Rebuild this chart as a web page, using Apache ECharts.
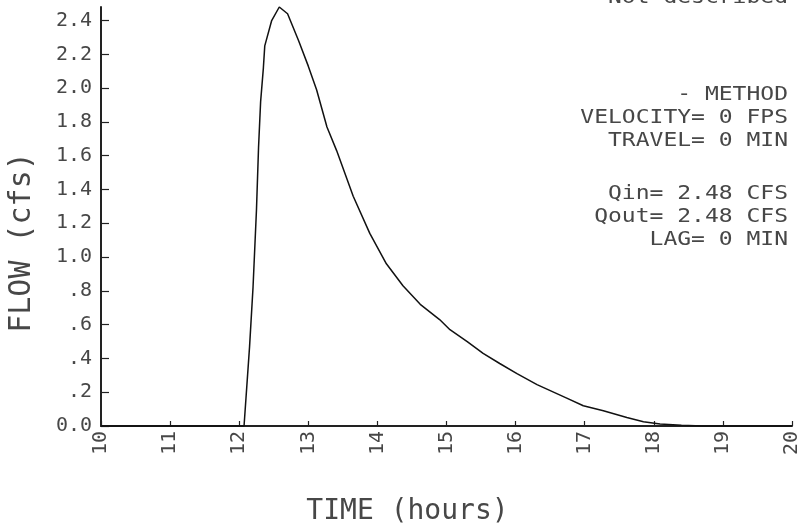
<!DOCTYPE html>
<html>
<head>
<meta charset="utf-8">
<script src="https://cdn.jsdelivr.net/npm/echarts@6/dist/echarts.min.js"></script>
<style>
  html, body { margin: 0; padding: 0; background: #fff; }
  #chart { width: 798px; height: 531px; }
</style>
</head>
<body>
<div id="chart"></div>
<script>
// Outflow hydrograph: time (hours) vs flow (cfs)
const times = [10, 12.07, 12.15, 12.2, 12.25, 12.28, 12.31, 12.35, 12.37, 12.47,
  12.58, 12.7, 12.86, 13.0, 13.12, 13.27, 13.41, 13.65, 13.89, 14.13,
  14.37, 14.62, 14.9, 15.05, 15.3, 15.53, 15.77, 16.02, 16.31, 16.74,
  16.98, 17.27, 17.61, 17.85, 18.09, 18.4, 18.7, 20];
const flow = [0, 0, 0.47, 0.82, 1.28, 1.65, 1.92, 2.12, 2.25, 2.40,
  2.48, 2.44, 2.28, 2.13, 1.99, 1.77, 1.63, 1.36, 1.14, 0.96,
  0.83, 0.72, 0.63, 0.57, 0.5, 0.43, 0.37, 0.31, 0.245, 0.165,
  0.12, 0.09, 0.05, 0.025, 0.012, 0.004, 0, 0];

const yTickValues = [0, 0.2, 0.4, 0.6, 0.8, 1.0, 1.2, 1.4, 1.6, 1.8, 2.0, 2.2, 2.4];
const yTickLabels = ['0.0', '.2', '.4', '.6', '.8', '1.0', '1.2', '1.4', '1.6', '1.8', '2.0', '2.2', '2.4'];
const xTickLabels = ['10', '11', '12', '13', '14', '15', '16', '17', '18', '19', '20'];

const noteTop = ['Not described'];
const noteMethod = ['- METHOD', 'VELOCITY= 0 FPS', 'TRAVEL= 0 MIN'];
const noteFlow = ['Qin= 2.48 CFS', 'Qout= 2.48 CFS', 'LAG= 0 MIN'];

const FONT = '"DejaVu Sans Mono", monospace';
const INK = '#474747';

function noteText(text, y) {
  return {
    type: 'text', x: 788, y: y, scaleX: 1.15, silent: true,
    style: {
      text: text, textAlign: 'right', textVerticalAlign: 'middle',
      fontFamily: FONT, fontSize: 20, fill: INK
    }
  };
}

const graphics = [];
noteTop.forEach((t, i) => graphics.push(noteText(t, -2 + i * 23)));
noteMethod.forEach((t, i) => graphics.push(noteText(t, 95 + i * 23)));
noteFlow.forEach((t, i) => graphics.push(noteText(t, 194 + i * 23)));

const chart = echarts.init(document.getElementById('chart'), null, { renderer: 'canvas' });
chart.setOption({
  animation: false,
  backgroundColor: '#fff',
  grid: { left: 101, right: 6, top: 7, bottom: 105, containLabel: false, outerBoundsMode: 'none' },
  xAxis: {
    type: 'value', min: 10, max: 20, interval: 1,
    name: 'TIME (hours)', nameLocation: 'middle', nameGap: 72,
    nameTextStyle: { fontFamily: FONT, fontSize: 28, color: INK, padding: [0, 78, 0, 0] },
    axisLine: { show: true, onZero: false, lineStyle: { color: '#222', width: 2 } },
    axisTick: { show: true, inside: true, length: 5, lineStyle: { color: '#222', width: 1.2 } },
    axisLabel: {
      rotate: 90, margin: 5, fontFamily: FONT, fontSize: 20, color: INK,
      formatter: v => xTickLabels[Math.round(v - 10)]
    },
    splitLine: { show: false }
  },
  yAxis: {
    type: 'value', min: 0, max: 2.48,
    name: 'FLOW (cfs)', nameLocation: 'middle', nameGap: 64,
    nameTextStyle: { fontFamily: FONT, fontSize: 30, color: INK, padding: [0, 52, 0, 0] },
    axisLine: { show: true, onZero: false, lineStyle: { color: '#222', width: 2 } },
    axisTick: { show: true, inside: true, length: 8, customValues: yTickValues, lineStyle: { color: '#222', width: 1.2 } },
    axisLabel: {
      margin: 9, fontFamily: FONT, fontSize: 20, color: INK,
      customValues: yTickValues,
      formatter: v => {
        const i = yTickValues.findIndex(t => Math.abs(t - v) < 1e-6);
        return i >= 0 ? yTickLabels[i] : '';
      }
    },
    splitLine: { show: false }
  },
  graphic: graphics,
  series: [{
    type: 'line',
    data: times.map((t, i) => [t, flow[i]]),
    showSymbol: false,
    symbol: 'none',
    lineStyle: { color: '#111', width: 1.5 },
    clip: false
  }]
});
</script>
</body>
</html>
